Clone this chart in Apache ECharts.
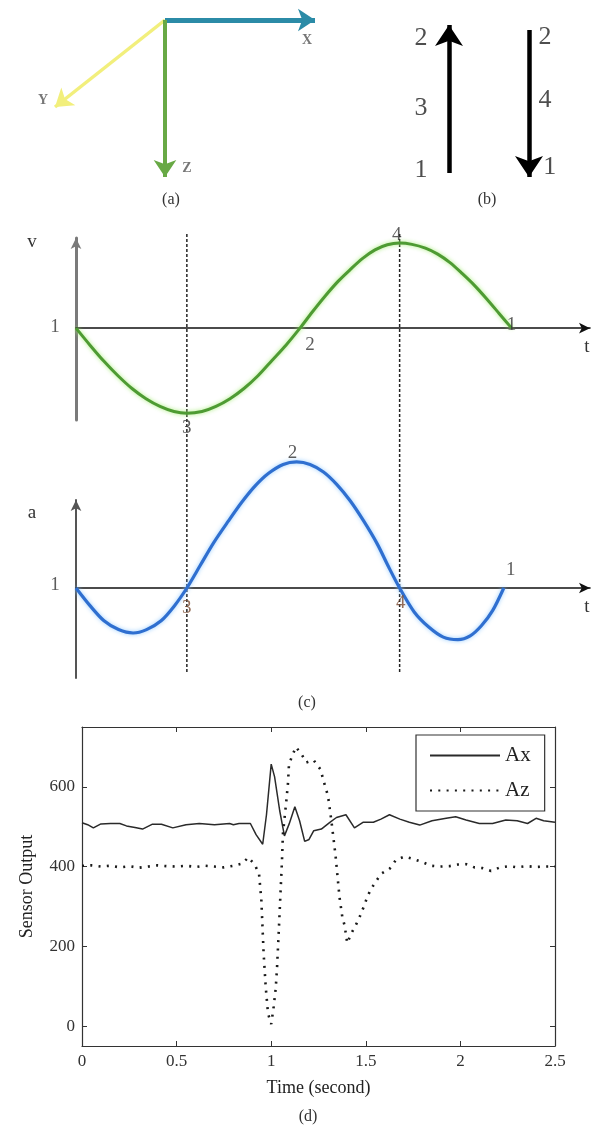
<!DOCTYPE html>
<html>
<head>
<meta charset="utf-8">
<script src="https://cdn.jsdelivr.net/npm/echarts@6/dist/echarts.min.js"></script>
<style>
html,body{margin:0;padding:0;background:#fff;}
#chart{width:597px;height:1129px;}
</style>
</head>
<body>
<div id="chart"></div>
<script>
// ---------- (a) sensor frame: arrow tips in diagram units (origin = sensor, y downward)
const frameAxisNames = ['X', 'Y', 'Z'];
const frameTipX = [150, -110, 0];
const frameTipY = [0, 87, 157];
const frameLabelX = [142, -122, 22];
const frameLabelY = [20, 80, 148];

// ---------- (b) motion phases: column, start level, end level (state 1 = 0, state 2 = 1)
const moveColumn = [0, 1];
const moveStart = [0, 0.966];
const moveEnd = [1, -0.027];
const stateLabels = ['2', '3', '1', '2', '4', '1'];
const stateLabelColumn = [-0.35, -0.35, -0.35, 1.2, 1.2, 1.26];
const stateLabelLevel = [0.912, 0.44, 0.02, 0.919, 0.493, 0.04];

// ---------- (c) velocity and acceleration sketches
const vTime = [0, 0.125, 0.25, 0.375, 0.5, 0.625, 0.75, 0.875, 0.99, 1.125, 1.25, 1.375, 1.5, 1.625, 1.75, 1.875, 2.0,
  2.11, 2.22, 2.34, 2.45, 2.56, 2.67, 2.78, 2.89, 3.0, 3.12, 3.23, 3.34, 3.45, 3.56, 3.67, 3.78, 3.89];
const vValue = [0, -0.2, -0.39, -0.56, -0.71, -0.83, -0.92, -0.98, -1, -0.98, -0.92, -0.83, -0.71, -0.56, -0.38, -0.2, 0,
  0.19, 0.37, 0.55, 0.69, 0.82, 0.92, 0.98, 1, 0.985, 0.94, 0.87, 0.77, 0.64, 0.5, 0.34, 0.17, 0];
const aTime = [0, 0.125, 0.25, 0.38, 0.51, 0.63, 0.76, 0.88, 0.99,
  1.11, 1.23, 1.36, 1.48, 1.6, 1.72, 1.85, 1.97, 2.09, 2.21, 2.33, 2.45, 2.57, 2.69, 2.79, 2.89,
  3.02, 3.15, 3.28, 3.41, 3.52, 3.62, 3.72, 3.82];
const aValue = [0, -0.14, -0.26, -0.33, -0.357, -0.33, -0.26, -0.14, 0,
  0.18, 0.36, 0.53, 0.68, 0.81, 0.91, 0.98, 1, 0.98, 0.92, 0.82, 0.69, 0.53, 0.35, 0.17, 0,
  -0.19, -0.31, -0.39, -0.41, -0.38, -0.3, -0.18, 0];
const vMarkNames = ['1', '3', '2', '4', '1'];
const vMarkTime = [0, 0.99, 2.0, 2.89, 3.89];
const vMarkValue = [0, -1, 0, 1, 0];
const aMarkNames = ['1', '3', '2', '4', '1'];
const aMarkTime = [0, 0.99, 1.97, 2.89, 3.82];
const aMarkValue = [0, 0, 1, 0, 0];
const phaseLines = [0.99, 2.89];

// ---------- (d) sensor output
const axTime = [0, 0.03, 0.06, 0.1, 0.15, 0.2, 0.235, 0.28, 0.32, 0.37, 0.42, 0.48, 0.55, 0.62, 0.7, 0.78, 0.8, 0.83, 0.89, 0.92, 0.955, 0.975, 1.0, 1.018, 1.045, 1.07, 1.095, 1.125, 1.15, 1.177, 1.2, 1.225, 1.265, 1.31, 1.345, 1.395, 1.44, 1.485, 1.54, 1.58, 1.625, 1.68, 1.73, 1.785, 1.85, 1.925, 1.975, 2.03, 2.1, 2.17, 2.24, 2.3, 2.355, 2.4, 2.44, 2.5];
const axValue = [510, 505, 497, 507, 508, 508, 502, 498, 494, 506, 506, 497, 505, 508, 505, 508, 505, 508, 508, 480, 456, 530, 657, 625, 540, 477, 507, 550, 515, 463, 468, 490, 494, 511, 523, 530, 497, 511, 511, 519, 530, 519, 511, 504, 515, 521, 525, 517, 508, 508, 517, 515, 508, 521, 515, 511];
const azTime = [0, 0.05, 0.1, 0.15, 0.2, 0.25, 0.3, 0.35, 0.4, 0.45, 0.5, 0.55, 0.6, 0.65, 0.7, 0.75, 0.8, 0.85, 0.878, 0.9, 0.918, 0.936, 0.948, 0.96, 0.971, 0.983, 1.0, 1.013, 1.024, 1.031, 1.041, 1.049, 1.057, 1.062, 1.08, 1.089, 1.094, 1.115, 1.13, 1.16, 1.186, 1.224, 1.26, 1.287, 1.30, 1.318, 1.34, 1.361, 1.376, 1.388, 1.402, 1.423, 1.446, 1.467, 1.485, 1.502, 1.523, 1.551, 1.581, 1.625, 1.66, 1.705, 1.75, 1.80, 1.845, 1.89, 1.94, 1.986, 2.03, 2.074, 2.118, 2.162, 2.21, 2.26, 2.3, 2.35, 2.4, 2.45, 2.5];
const azValue = [402, 403, 400, 402, 398, 401, 397, 400, 403, 401, 400, 402, 399, 402, 400, 398, 402, 408, 423, 412, 400, 380, 315, 182, 98, 32, 5, 48, 95, 148, 248, 332, 415, 482, 565, 611, 657, 682, 700, 682, 661, 667, 644, 598, 578, 515, 428, 323, 273, 252, 208, 232, 252, 273, 294, 316, 340, 361, 382, 394, 417, 425, 419, 411, 402, 400, 401, 405, 406, 398, 396, 389, 398, 401, 398, 401, 399, 400, 400];
const timeTicks = [0, 0.5, 1, 1.5, 2, 2.5];
const outputTicks = [0, 200, 400, 600];
const seriesNames = ['Ax', 'Az'];

// ---------- styling
const SERIF = "'Liberation Serif', 'Times New Roman', serif";
const frameColors = ['#2b8ba7', '#f2ef7c', '#68a945'];
const frameWidths = [5, 3.5, 4];
const vMarkOffsets = [[-21, -1], [0, 15], [10, 17], [-3, -8], [0, -3]];
const aMarkOffsets = [[-21, -3], [0, 20], [-4, -9], [1, 15], [7, -18]];
const aMarkColors = ['#333', '#7a4a30', '#333', '#7a4a30', '#333'];
const NOSYM = { color: 'rgba(0,0,0,0)', borderWidth: 0, opacity: 0 };

const zip = (xs, ys) => xs.map((x, i) => [x, ys[i]]);
const hiddenAxis = (extra) => Object.assign({ type: 'value', show: false, splitLine: { show: false } }, extra);

const sketchX = (grid) => ({
  type: 'value', gridIndex: grid, min: 0, max: 4.59,
  axisLine: { show: true, onZero: true, symbol: ['none', 'arrow'], symbolSize: [8, 11], lineStyle: { color: '#111', width: 1.6 } },
  axisTick: { show: false }, axisLabel: { show: false }, splitLine: { show: false }
});
const sketchY = (grid, min, max, color, width) => ({
  type: 'value', gridIndex: grid, min: min, max: max,
  axisLine: { show: true, onZero: false, symbol: ['none', 'arrow'], symbolSize: [8, 11], lineStyle: { color: color, width: width } },
  axisTick: { show: false }, axisLabel: { show: false }, splitLine: { show: false }
});

const plotX = (pos, labels) => ({
  type: 'value', gridIndex: 5, position: pos, min: 0, max: 2.5, interval: 0.5,
  axisLine: { show: true, onZero: false, lineStyle: { color: '#333', width: 1.2 } },
  axisTick: { show: true, inside: true, length: 5, customValues: timeTicks, lineStyle: { color: '#333' } },
  axisLabel: { show: labels, customValues: timeTicks, color: '#333', fontFamily: SERIF, fontSize: 17, margin: 7 },
  splitLine: { show: false },
  name: labels ? 'Time (second)' : '', nameLocation: 'middle', nameGap: 33,
  nameTextStyle: { color: '#222', fontFamily: SERIF, fontSize: 18 }
});
const plotY = (pos, labels) => ({
  type: 'value', gridIndex: 5, position: pos, min: -50, max: 750,
  axisLine: { show: true, onZero: false, lineStyle: { color: '#333', width: 1.2 } },
  axisTick: { show: true, inside: true, length: 5, customValues: outputTicks, lineStyle: { color: '#333' } },
  axisLabel: { show: labels, customValues: outputTicks, color: '#333', fontFamily: SERIF, fontSize: 17, margin: 7 },
  splitLine: { show: false },
  name: labels ? 'Sensor Output' : '', nameLocation: 'middle', nameGap: 46,
  nameTextStyle: { color: '#222', fontFamily: SERIF, fontSize: 18 }
});

const text = (t, x, y, size, color, font) => ({
  type: 'text', x: x, y: y, silent: true,
  style: { text: t, font: size + 'px ' + (font || SERIF), fill: color || '#333', align: 'center', verticalAlign: 'middle', textAlign: 'center', textVerticalAlign: 'middle' }
});

const option = {
  animation: false,
  backgroundColor: '#fff',
  grid: [
    { left: 15, top: 5, width: 330, height: 200 },          // (a)
    { left: 401, top: 2.8, width: 176, height: 192.4 },     // (b)
    { left: 76, top: 238, width: 514, height: 182 },        // (c) v
    { left: 76, top: 500, width: 514, height: 178 },        // (c) a
    { left: 76, top: 232, width: 514, height: 440 },        // (c) phase lines
    { left: 82, top: 727, width: 473, height: 319 }         // (d)
  ],
  xAxis: [
    hiddenAxis({ gridIndex: 0, min: -150, max: 180 }),
    hiddenAxis({ gridIndex: 1, min: -0.6, max: 1.6 }),
    sketchX(2),
    sketchX(3),
    hiddenAxis({ gridIndex: 4, min: 0, max: 4.59 }),
    plotX('bottom', true),
    plotX('top', false)
  ],
  yAxis: [
    hiddenAxis({ gridIndex: 0, min: -15, max: 185, inverse: true }),
    hiddenAxis({ gridIndex: 1, min: -0.15, max: 1.15 }),
    sketchY(2, -1.08, 1.06, '#7a7a7a', 3),
    sketchY(3, -0.714, 0.698, '#555', 2),
    hiddenAxis({ gridIndex: 4, min: 0, max: 1 }),
    plotY('left', true),
    plotY('right', false)
  ],
  legend: {
    data: seriesNames,
    left: 416, top: 735, orient: 'vertical',
    borderColor: '#333', borderWidth: 1.2, borderRadius: 0,
    padding: [10, 14, 10, 13], itemGap: 14, itemWidth: 70, itemHeight: 14,
    selectedMode: false,
    itemStyle: NOSYM,
    textStyle: { fontFamily: SERIF, fontSize: 21, color: '#222' }
  },
  series: [
    {
      type: 'lines', coordinateSystem: 'cartesian2d', xAxisIndex: 0, yAxisIndex: 0,
      symbol: ['none', 'arrow'], symbolSize: 17, silent: true, z: 3,
      data: frameAxisNames.map((n, i) => ({
        name: n, coords: [[0, 0], [frameTipX[i], frameTipY[i]]],
        lineStyle: { color: frameColors[i], width: frameWidths[i], opacity: 1 }
      }))
    },
    {
      type: 'scatter', xAxisIndex: 0, yAxisIndex: 0, symbolSize: 0, silent: true, clip: false,
      data: frameAxisNames.map((n, i) => ({ name: n, value: [frameLabelX[i], frameLabelY[i]] })),
      label: { show: true, position: 'inside', formatter: '{b}', fontFamily: SERIF, fontSize: 14, fontWeight: 'bold', color: '#555' }
    },
    {
      type: 'lines', coordinateSystem: 'cartesian2d', xAxisIndex: 1, yAxisIndex: 1,
      symbol: ['none', 'arrow'], symbolSize: 21, silent: true,
      data: moveColumn.map((c, i) => ({
        coords: [[c, moveStart[i]], [c, moveEnd[i]]],
        lineStyle: { color: '#000', width: 4.5, opacity: 1 }
      }))
    },
    {
      type: 'scatter', xAxisIndex: 1, yAxisIndex: 1, symbolSize: 0, silent: true, clip: false,
      data: stateLabels.map((n, i) => ({ name: n, value: [stateLabelColumn[i], stateLabelLevel[i]] })),
      label: { show: true, position: 'inside', formatter: '{b}', fontFamily: SERIF, fontSize: 26, color: '#222' }
    },
    {
      type: 'line', xAxisIndex: 2, yAxisIndex: 2, data: zip(vTime, vValue), smooth: 0.3,
      symbol: 'none', silent: true, clip: false, z: 4,
      lineStyle: { color: '#4e9b33', width: 3, shadowColor: 'rgba(160,235,110,0.9)', shadowBlur: 4 }
    },
    {
      type: 'scatter', xAxisIndex: 2, yAxisIndex: 2, symbolSize: 0, silent: true, clip: false, z: 6,
      data: vMarkNames.map((n, i) => ({ name: n, value: [vMarkTime[i], vMarkValue[i]], label: { offset: vMarkOffsets[i] } })),
      label: { show: true, position: 'inside', formatter: '{b}', fontFamily: SERIF, fontSize: 19, color: '#333' }
    },
    {
      type: 'line', xAxisIndex: 3, yAxisIndex: 3, data: zip(aTime, aValue), smooth: 0.3,
      symbol: 'none', silent: true, clip: false, z: 4,
      lineStyle: { color: '#2f6fd0', width: 3.2, shadowColor: 'rgba(140,200,255,0.9)', shadowBlur: 4 }
    },
    {
      type: 'scatter', xAxisIndex: 3, yAxisIndex: 3, symbolSize: 0, silent: true, clip: false, z: 6,
      data: aMarkNames.map((n, i) => ({ name: n, value: [aMarkTime[i], aMarkValue[i]], label: { offset: aMarkOffsets[i], color: aMarkColors[i] } })),
      label: { show: true, position: 'inside', formatter: '{b}', fontFamily: SERIF, fontSize: 19, color: '#333' }
    },
    ...phaseLines.map(t => ({
      type: 'line', xAxisIndex: 4, yAxisIndex: 4, data: [[t, 0], [t, 1]],
      symbol: 'none', silent: true, z: 2,
      lineStyle: { color: '#222', width: 1.5, type: [3, 2] }
    })),
    {
      name: seriesNames[0], type: 'line', xAxisIndex: 5, yAxisIndex: 5,
      data: zip(axTime, axValue), symbol: 'none', silent: true,
      itemStyle: NOSYM,
      lineStyle: { color: '#2a2a2a', width: 1.5 }
    },
    {
      name: seriesNames[1], type: 'line', xAxisIndex: 5, yAxisIndex: 5,
      data: zip(azTime, azValue), symbol: 'none', silent: true,
      itemStyle: NOSYM,
      lineStyle: { color: '#1a1a1a', width: 2.6, type: [2, 6.3] }
    }
  ],
  graphic: [
    text('(a)', 171, 200, 16),
    text('(b)', 487, 200, 16),
    text('(c)', 307, 703, 16),
    text('(d)', 308, 1117, 16),
    text('v', 32, 242, 19, '#333'),
    text('t', 587, 347, 19, '#333'),
    text('a', 32, 513, 19, '#333'),
    text('t', 587, 607, 19, '#333')
  ]
};

const chart = echarts.init(document.getElementById('chart'), null, { renderer: 'canvas' });
chart.setOption(option);
</script>
</body>
</html>
